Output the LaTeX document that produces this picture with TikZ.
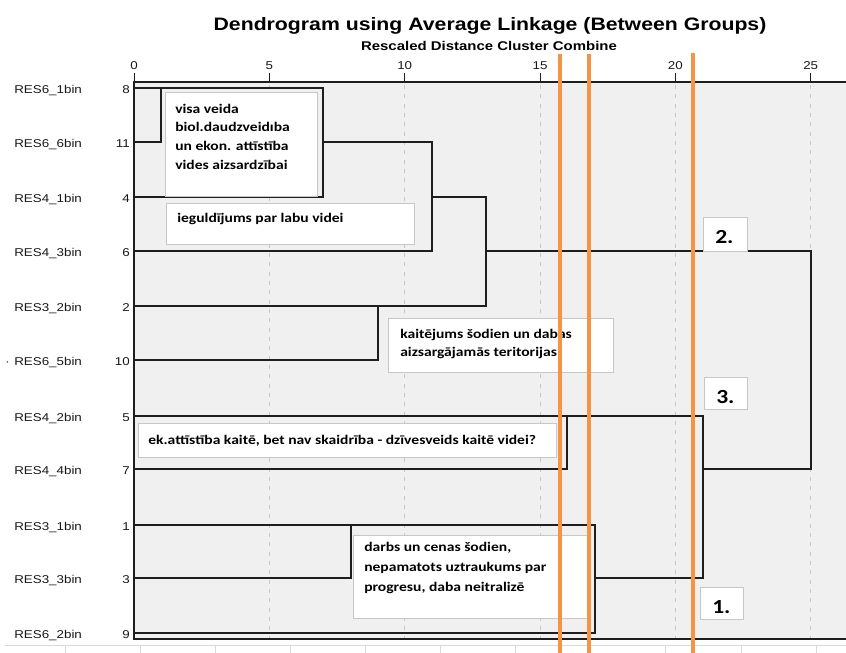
\documentclass[tikz,border=0pt]{standalone}
\usepackage{fontspec}
\usepackage{graphicx}
\setmainfont{Liberation Sans}
\newfontfamily\calfont{Carlito}
\newcommand\strx[1]{\scalebox{1.18}[1]{#1}}
\definecolor{cutorange}{RGB}{245,148,66}
\definecolor{plotbg}{RGB}{240,240,240}
\definecolor{dendro}{RGB}{30,30,30}
\begin{document}
\begin{tikzpicture}[x=0.75pt,y=-0.75pt,
  dline/.style={draw=dendro, line width=1.5pt, line cap=rect},
  frameline/.style={draw=dendro, line width=1.5pt},
  gridl/.style={draw=black!22, line width=0.75pt, dash pattern=on 3pt off 4pt},
  cutline/.style={draw=cutorange, line width=2.3pt},
  notebox/.style={fill=white, draw=black!22, line width=0.75pt},
  notetxt/.style={anchor=base west, inner sep=0pt, font=\calfont\bfseries\fontsize{9.9}{12}\selectfont},
  numtxt/.style={anchor=base west, inner sep=0pt, font=\calfont\bfseries\fontsize{15}{18}\selectfont},
  rowlab/.style={anchor=base west, inner sep=0pt, text=black!90, font=\fontsize{8.5}{10}\selectfont},
  rownum/.style={anchor=base east, inner sep=0pt, text=black!90, font=\fontsize{8.5}{10}\selectfont},
  ticklab/.style={anchor=base, inner sep=0pt, text=black!90, font=\fontsize{8.5}{10}\selectfont},
  stripline/.style={draw=black!15, line width=0.75pt}]
\useasboundingbox (0,0) rectangle (846,653);
\fill[white] (0,0) rectangle (846,653);
% plot area
\fill[plotbg] (134,82) rectangle (846,639);
\foreach \x in {269.3,404.7,540,675.4,810.7} \draw[gridl] (\x,85) -- (\x,638);
\foreach \x in {134,269.3,404.7,540,675.4,810.7} \draw[draw=dendro, line width=0.75pt] (\x,73) -- (\x,82);
\foreach \x/\t in {134/0,269.3/5,404.7/10,540/15,675.4/20,810.7/25} \node[ticklab] (tick\t) at (\x,69) {\strx{\t}};
% strip below
\draw[stripline] (5,645.5) -- (846,645.5);
\foreach \x in {65,140,215,290,365,440,515,590,665,741,816} \draw[stripline] (\x,645.5) -- (\x,653);
% row labels
\foreach \lab/\num/\y in {RES6\_1bin/8/88, RES6\_6bin/11/142, RES4\_1bin/4/197, RES4\_3bin/6/251, RES3\_2bin/2/306, RES6\_5bin/10/360, RES4\_2bin/5/416, RES4\_4bin/7/469, RES3\_1bin/1/525, RES3\_3bin/3/578, RES6\_2bin/9/633}{
  \node[rowlab] (lab\num) at (14,\y+5) {\strx{\lab}};
  \node[rownum] (num\num) at (130,\y+5) {\strx{\num}};
}
\node[rowlab] (dot) at (5,365) {\strx{·}};
% dendrogram
\draw[dline] (134,88) -- (323,88);
\draw[dline] (161,88) -- (161,142);
\draw[dline] (134,142) -- (161,142);
\draw[dline] (323,88) -- (323,197);
\draw[dline] (134,197) -- (323,197);
\draw[dline] (323,142) -- (432,142);
\draw[dline] (432,142) -- (432,251);
\draw[dline] (134,251) -- (432,251);
\draw[dline] (432,197) -- (486,197);
\draw[dline] (486,197) -- (486,306);
\draw[dline] (134,306) -- (486,306);
\draw[dline] (378,306) -- (378,360);
\draw[dline] (134,360) -- (378,360);
\draw[dline] (486,251) -- (811,251);
\draw[dline] (811,251) -- (811,469);
\draw[dline] (134,416) -- (703,416);
\draw[dline] (567,416) -- (567,469);
\draw[dline] (134,469) -- (567,469);
\draw[dline] (703,416) -- (703,578);
\draw[dline] (703,469) -- (811,469);
\draw[dline] (134,525) -- (595,525);
\draw[dline] (351,525) -- (351,578);
\draw[dline] (134,578) -- (351,578);
\draw[dline] (595,525) -- (595,633);
\draw[dline] (595,578) -- (703,578);
\draw[dline] (134,633) -- (595,633);
% frame
\draw[frameline] (846,82) -- (134,82) -- (134,639) -- (846,639);
% note boxes
\draw[notebox] (165,92) rectangle (317,196);
\node[notetxt] (n1a) at (175,113) {\strx{visa veida}};
\node[notetxt] (n1b) at (175,131.7) {\strx{biol.daudzveidıba}};
\node[notetxt] (n1c) at (175,150.4) {\strx{un ekon. attīstība}};
\node[notetxt] (n1d) at (175,169) {\strx{vides aizsardzībai}};
\draw[notebox] (166,203) rectangle (414,244);
\node[notetxt] (n2a) at (177,222) {\strx{ieguldījums par labu videi}};
\draw[notebox] (388,318) rectangle (613,372);
\node[notetxt] (n3a) at (400,338) {\strx{kaitējums šodien un dabas}};
\node[notetxt] (n3b) at (400,356) {\strx{aizsargājamās teritorijas}};
\draw[notebox] (138,423) rectangle (556,457);
\node[notetxt] (n4a) at (148,444) {\strx{ek.attīstība kaitē, bet nav skaidrība - dzīvesveids kaitē videi?}};
\draw[notebox] (353,535) rectangle (587,618);
\node[notetxt] (n5a) at (364,551.5) {\strx{darbs un cenas šodien,}};
\node[notetxt] (n5b) at (364,571) {\strx{nepamatots uztraukums par}};
\node[notetxt] (n5c) at (364,591) {\strx{progresu, daba neitralizē}};
% number boxes
\draw[notebox] (703,217) rectangle (747,251);
\node[numtxt] (c2) at (715,243) {\strx{2.}};
\draw[notebox] (704,377) rectangle (747,409);
\node[numtxt] (c3) at (716,403) {\strx{3.}};
\draw[notebox] (700,587) rectangle (743,619);
\node[numtxt] (c1) at (712,613) {\strx{1.}};
% cut lines
\draw[cutline] (560,54) -- (560,653);
\draw[cutline] (589,54) -- (589,653);
\draw[cutline] (693,53) -- (693,653);
% titles
\node[anchor=base, inner sep=0pt, font=\bfseries\fontsize{13.5}{16}\selectfont] (title) at (490,31) {\strx{Dendrogram using Average Linkage (Between Groups)}};
\node[anchor=base, inner sep=0pt, font=\bfseries\fontsize{9.5}{11}\selectfont] (subtitle) at (489,50.7) {\strx{Rescaled Distance Cluster Combine}};
\end{tikzpicture}
\end{document}
